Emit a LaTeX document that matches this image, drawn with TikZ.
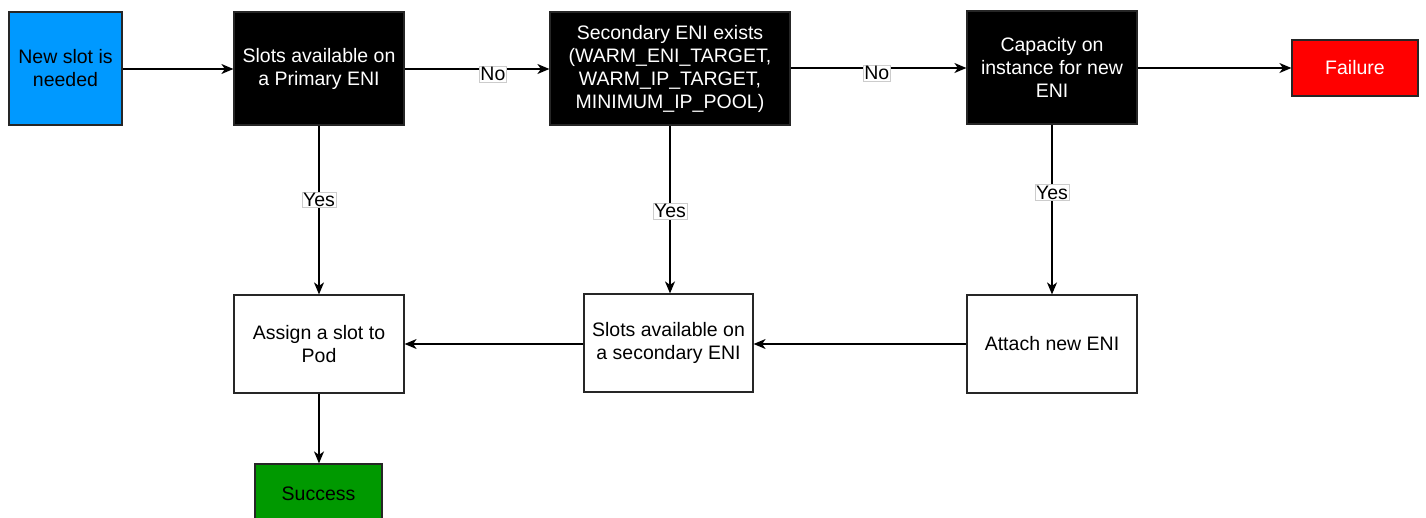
\documentclass[tikz,border=0pt]{standalone}
\usepackage{fontspec}
\setmainfont{Liberation Sans}
\usetikzlibrary{arrows.meta}

\definecolor{needblue}{RGB}{0,153,255}
\definecolor{failred}{RGB}{255,0,0}
\definecolor{okgreen}{RGB}{0,153,0}

\begin{document}
\begin{tikzpicture}[x=1pt, y=-1pt,
    box/.style={draw=black!85, line width=1.2pt, minimum width=170pt, minimum height=98pt,
        align=center, inner sep=0pt, font=\fontsize{19.5}{23}\selectfont},
    dark/.style={box, fill=black, text=white, minimum height=113pt},
    flow/.style={-{Stealth[length=12pt, width=10pt, inset=3.5pt]}, line width=1.3pt},
    tag/.style={fill=white, draw=black!20, line width=0.6pt, inner sep=1pt,
        font=\fontsize{19.5}{23}\selectfont}]
    \useasboundingbox (0,0) rectangle (1426,517);
    % top row
    \node[box, fill=needblue, minimum width=113pt, minimum height=113pt] (need) at (65.5,68.5) {New slot is\\needed};
    \node[dark] (primary) at (319,68.5) {Slots available on\\a Primary ENI};
    \node[dark, minimum width=240pt] (secondary) at (670,68.5) {Secondary ENI exists\\(WARM\_ENI\_TARGET,\\WARM\_IP\_TARGET,\\MINIMUM\_IP\_POOL)};
    \node[dark] (capacity) at (1052,67.5) {Capacity on\\instance for new\\ENI};
    \node[box, fill=failred, text=white, minimum width=126pt, minimum height=56pt] (failure) at (1355,68) {Failure};
    % bottom row
    \node[box] (assign) at (319,344) {Assign a slot to\\Pod};
    \node[box, minimum width=169pt] (slotsec) at (668.5,343) {Slots available on\\a secondary ENI};
    \node[box] (attach) at (1052,344) {Attach new ENI};
    \node[box, fill=okgreen, minimum width=127pt, minimum height=60pt] (success) at (318.5,494) {Success};
    % connectors
    \draw[flow] (need.east |- 0,69) -- (primary.west |- 0,69);
    \draw[flow] (primary.east |- 0,69) -- node[tag, pos=0.61, yshift=-5pt] {No} (secondary.west |- 0,69);
    \draw[flow] (secondary.east |- 0,68) -- node[tag, pos=0.49, yshift=-5pt] {No} (capacity.west |- 0,68);
    \draw[flow] (capacity.east |- 0,68) -- (failure.west |- 0,68);
    \draw[flow] (primary.south) -- node[tag, pos=0.44] {Yes} (assign.north);
    \draw[flow] (secondary.south) -- node[tag, pos=0.51] {Yes} (secondary.south |- slotsec.north);
    \draw[flow] (capacity.south) -- node[tag, pos=0.4] {Yes} (attach.north);
    \draw[flow] (attach.west |- 0,344) -- (slotsec.east |- 0,344);
    \draw[flow] (slotsec.west |- 0,344) -- (assign.east |- 0,344);
    \draw[flow] (assign.south) -- (assign.south |- success.north);
\end{tikzpicture}
\end{document}
